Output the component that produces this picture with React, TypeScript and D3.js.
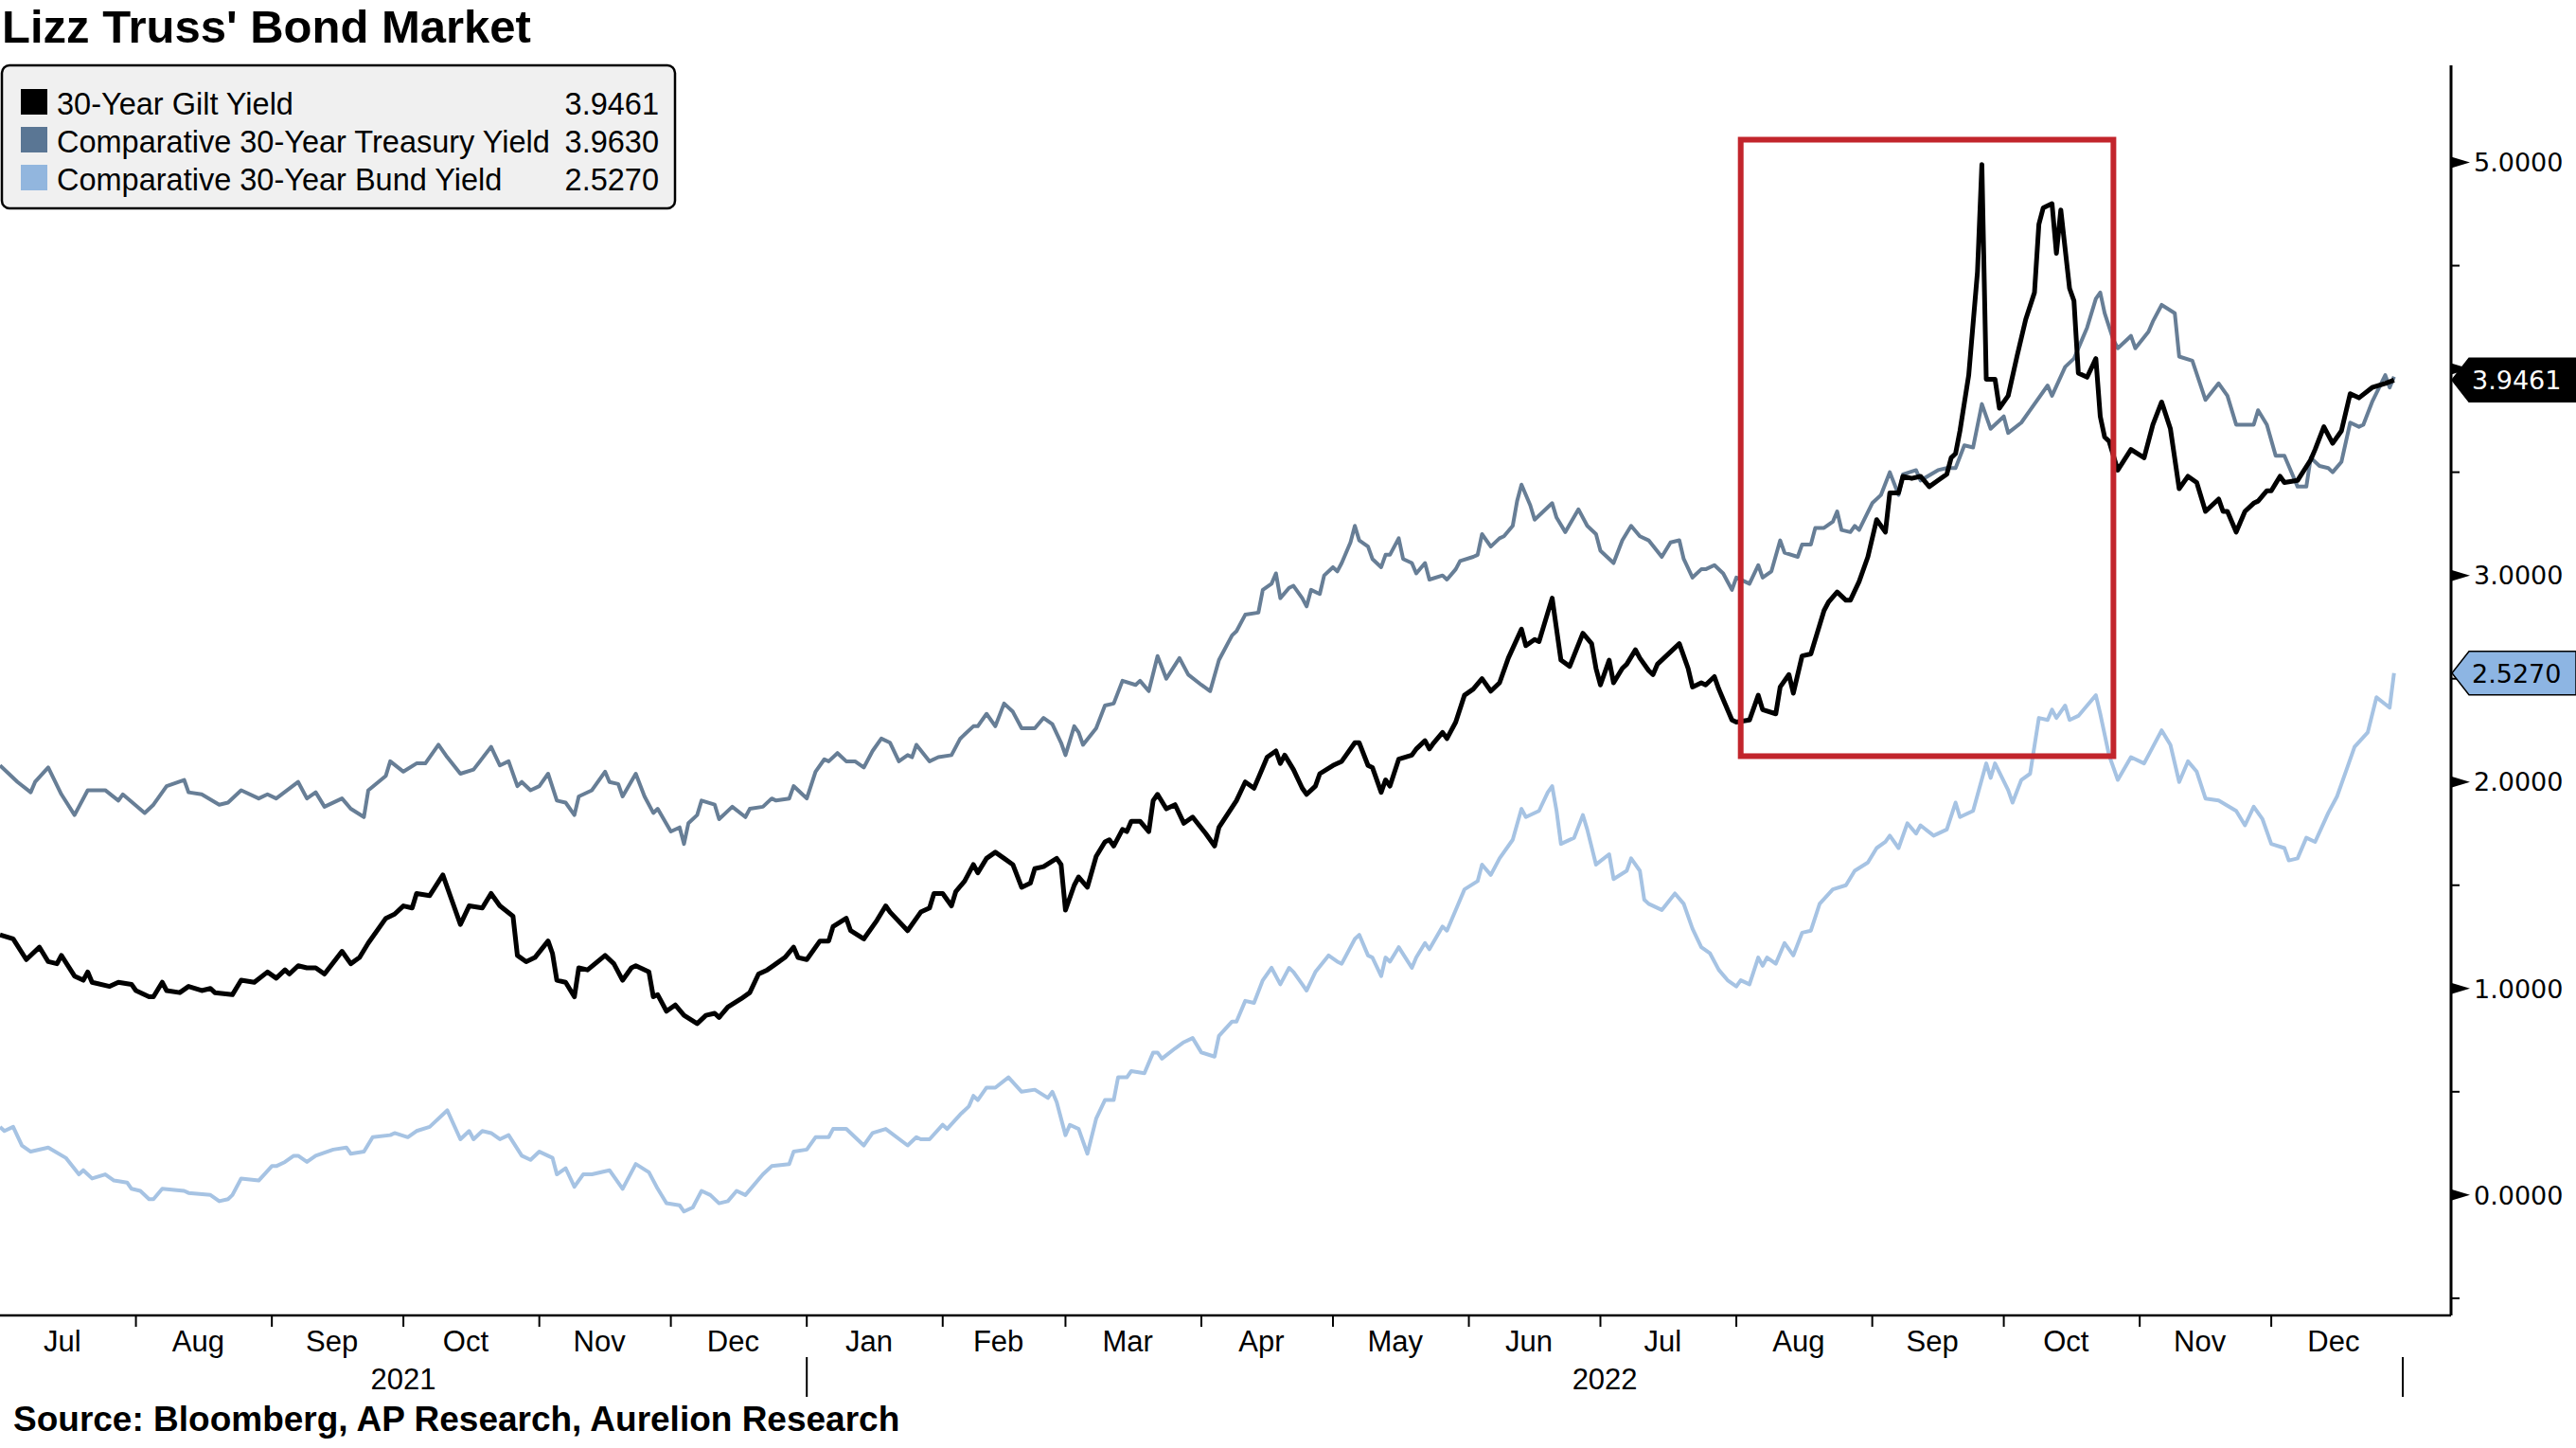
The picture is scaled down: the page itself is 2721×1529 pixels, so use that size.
import React, { useMemo } from 'react';
import * as d3 from 'd3';

type Pt = [string, number];

// 30-year gilt yield
const giltYield: Pt[] = [
  ['2021-07-01', 1.26], ['2021-07-04', 1.24], ['2021-07-07', 1.14], ['2021-07-10', 1.2], ['2021-07-12', 1.13],
  ['2021-07-14', 1.12], ['2021-07-15', 1.16], ['2021-07-18', 1.06], ['2021-07-20', 1.04], ['2021-07-21', 1.08],
  ['2021-07-22', 1.03], ['2021-07-26', 1.01], ['2021-07-28', 1.03], ['2021-07-31', 1.02], ['2021-08-01', 0.99],
  ['2021-08-04', 0.96], ['2021-08-05', 0.96], ['2021-08-07', 1.03], ['2021-08-08', 0.99], ['2021-08-11', 0.98],
  ['2021-08-13', 1.01], ['2021-08-16', 0.99], ['2021-08-18', 1.0], ['2021-08-19', 0.98], ['2021-08-23', 0.97],
  ['2021-08-25', 1.04], ['2021-08-28', 1.03], ['2021-08-31', 1.08], ['2021-09-02', 1.05], ['2021-09-04', 1.09],
  ['2021-09-05', 1.07], ['2021-09-07', 1.11], ['2021-09-09', 1.1], ['2021-09-11', 1.1], ['2021-09-13', 1.07],
  ['2021-09-17', 1.18], ['2021-09-19', 1.12], ['2021-09-21', 1.15], ['2021-09-23', 1.22], ['2021-09-27', 1.34],
  ['2021-09-29', 1.36], ['2021-10-01', 1.4], ['2021-10-03', 1.39], ['2021-10-04', 1.46], ['2021-10-07', 1.45],
  ['2021-10-10', 1.55], ['2021-10-12', 1.43], ['2021-10-14', 1.31], ['2021-10-16', 1.4], ['2021-10-19', 1.39],
  ['2021-10-21', 1.46], ['2021-10-23', 1.4], ['2021-10-26', 1.35], ['2021-10-27', 1.16], ['2021-10-29', 1.13],
  ['2021-10-31', 1.15], ['2021-11-03', 1.23], ['2021-11-04', 1.17], ['2021-11-05', 1.04], ['2021-11-07', 1.03],
  ['2021-11-09', 0.96], ['2021-11-10', 1.1], ['2021-11-12', 1.09], ['2021-11-16', 1.16], ['2021-11-18', 1.12],
  ['2021-11-20', 1.04], ['2021-11-22', 1.1], ['2021-11-23', 1.11], ['2021-11-26', 1.08], ['2021-11-27', 0.96],
  ['2021-11-28', 0.97], ['2021-11-30', 0.89], ['2021-12-02', 0.92], ['2021-12-04', 0.87], ['2021-12-07', 0.83],
  ['2021-12-09', 0.87], ['2021-12-11', 0.88], ['2021-12-12', 0.86], ['2021-12-14', 0.91], ['2021-12-17', 0.95],
  ['2021-12-19', 0.98], ['2021-12-21', 1.07], ['2021-12-23', 1.09], ['2021-12-25', 1.12], ['2021-12-27', 1.15],
  ['2021-12-29', 1.2], ['2021-12-30', 1.15], ['2022-01-01', 1.14], ['2022-01-04', 1.23], ['2022-01-06', 1.23],
  ['2022-01-07', 1.3], ['2022-01-10', 1.34], ['2022-01-11', 1.28], ['2022-01-14', 1.24], ['2022-01-17', 1.33],
  ['2022-01-19', 1.4], ['2022-01-20', 1.37], ['2022-01-24', 1.28], ['2022-01-27', 1.37], ['2022-01-29', 1.39],
  ['2022-01-30', 1.46], ['2022-02-01', 1.46], ['2022-02-03', 1.4], ['2022-02-04', 1.47], ['2022-02-06', 1.52],
  ['2022-02-08', 1.6], ['2022-02-09', 1.56], ['2022-02-11', 1.63], ['2022-02-13', 1.66], ['2022-02-15', 1.63],
  ['2022-02-17', 1.6], ['2022-02-19', 1.49], ['2022-02-21', 1.51], ['2022-02-22', 1.58], ['2022-02-24', 1.59],
  ['2022-02-27', 1.63], ['2022-02-28', 1.6], ['2022-03-01', 1.38], ['2022-03-03', 1.5], ['2022-03-04', 1.54],
  ['2022-03-06', 1.49], ['2022-03-08', 1.64], ['2022-03-10', 1.71], ['2022-03-11', 1.72], ['2022-03-12', 1.69],
  ['2022-03-14', 1.77], ['2022-03-15', 1.76], ['2022-03-16', 1.81], ['2022-03-18', 1.81], ['2022-03-20', 1.76],
  ['2022-03-21', 1.91], ['2022-03-22', 1.94], ['2022-03-24', 1.87], ['2022-03-26', 1.89], ['2022-03-28', 1.8],
  ['2022-03-30', 1.83], ['2022-04-02', 1.75], ['2022-04-04', 1.69], ['2022-04-05', 1.78], ['2022-04-09', 1.91],
  ['2022-04-11', 2.0], ['2022-04-13', 1.97], ['2022-04-15', 2.07], ['2022-04-16', 2.12], ['2022-04-18', 2.15],
  ['2022-04-19', 2.09], ['2022-04-20', 2.13], ['2022-04-22', 2.06], ['2022-04-24', 1.97], ['2022-04-25', 1.94],
  ['2022-04-27', 1.98], ['2022-04-28', 2.04], ['2022-05-01', 2.08], ['2022-05-03', 2.1], ['2022-05-04', 2.13],
  ['2022-05-06', 2.19], ['2022-05-07', 2.19], ['2022-05-09', 2.08], ['2022-05-10', 2.07], ['2022-05-12', 1.95],
  ['2022-05-13', 2.01], ['2022-05-14', 1.98], ['2022-05-16', 2.11], ['2022-05-19', 2.13], ['2022-05-20', 2.16],
  ['2022-05-22', 2.2], ['2022-05-23', 2.16], ['2022-05-24', 2.19], ['2022-05-26', 2.24], ['2022-05-27', 2.21],
  ['2022-05-29', 2.29], ['2022-05-31', 2.42], ['2022-06-02', 2.45], ['2022-06-04', 2.5], ['2022-06-06', 2.44],
  ['2022-06-08', 2.48], ['2022-06-10', 2.6], ['2022-06-13', 2.74], ['2022-06-14', 2.66], ['2022-06-16', 2.69],
  ['2022-06-17', 2.68], ['2022-06-19', 2.82], ['2022-06-20', 2.89], ['2022-06-21', 2.74], ['2022-06-22', 2.59],
  ['2022-06-24', 2.56], ['2022-06-27', 2.72], ['2022-06-29', 2.67], ['2022-06-30', 2.55], ['2022-07-01', 2.47],
  ['2022-07-03', 2.59], ['2022-07-04', 2.48], ['2022-07-06', 2.55], ['2022-07-07', 2.57], ['2022-07-09', 2.64],
  ['2022-07-10', 2.6], ['2022-07-12', 2.54], ['2022-07-13', 2.52], ['2022-07-14', 2.57], ['2022-07-19', 2.67],
  ['2022-07-21', 2.55], ['2022-07-22', 2.46], ['2022-07-24', 2.48], ['2022-07-25', 2.47], ['2022-07-27', 2.51],
  ['2022-07-28', 2.45], ['2022-07-29', 2.4], ['2022-07-31', 2.3], ['2022-08-01', 2.29], ['2022-08-04', 2.3],
  ['2022-08-06', 2.42], ['2022-08-07', 2.35], ['2022-08-10', 2.33], ['2022-08-11', 2.46], ['2022-08-13', 2.52],
  ['2022-08-14', 2.43], ['2022-08-16', 2.61], ['2022-08-18', 2.62], ['2022-08-21', 2.83], ['2022-08-22', 2.87],
  ['2022-08-24', 2.92], ['2022-08-26', 2.88], ['2022-08-27', 2.88], ['2022-08-29', 2.97], ['2022-08-31', 3.09],
  ['2022-09-02', 3.27], ['2022-09-04', 3.21], ['2022-09-05', 3.4], ['2022-09-07', 3.4], ['2022-09-08', 3.48],
  ['2022-09-10', 3.47], ['2022-09-12', 3.48], ['2022-09-14', 3.43], ['2022-09-16', 3.46], ['2022-09-18', 3.49],
  ['2022-09-19', 3.57], ['2022-09-20', 3.59], ['2022-09-21', 3.7], ['2022-09-23', 3.97], ['2022-09-25', 4.47],
  ['2022-09-26', 4.99], ['2022-09-27', 3.95], ['2022-09-29', 3.95], ['2022-09-30', 3.81], ['2022-10-02', 3.87],
  ['2022-10-04', 4.06], ['2022-10-06', 4.24], ['2022-10-08', 4.37], ['2022-10-09', 4.7], ['2022-10-10', 4.78],
  ['2022-10-12', 4.8], ['2022-10-13', 4.56], ['2022-10-14', 4.77], ['2022-10-16', 4.39], ['2022-10-17', 4.33],
  ['2022-10-18', 3.98], ['2022-10-20', 3.96], ['2022-10-22', 4.05], ['2022-10-23', 3.77], ['2022-10-24', 3.67],
  ['2022-10-25', 3.65], ['2022-10-27', 3.51], ['2022-10-30', 3.61], ['2022-11-02', 3.57], ['2022-11-04', 3.73],
  ['2022-11-06', 3.84], ['2022-11-08', 3.71], ['2022-11-10', 3.42], ['2022-11-12', 3.48], ['2022-11-14', 3.45],
  ['2022-11-16', 3.31], ['2022-11-19', 3.37], ['2022-11-20', 3.31], ['2022-11-21', 3.31], ['2022-11-23', 3.21],
  ['2022-11-25', 3.31], ['2022-11-27', 3.35], ['2022-11-28', 3.36], ['2022-11-30', 3.41], ['2022-12-01', 3.41],
  ['2022-12-03', 3.48], ['2022-12-04', 3.45], ['2022-12-07', 3.46], ['2022-12-10', 3.56], ['2022-12-11', 3.61],
  ['2022-12-13', 3.72], ['2022-12-15', 3.64], ['2022-12-17', 3.7], ['2022-12-19', 3.88], ['2022-12-21', 3.86],
  ['2022-12-24', 3.91], ['2022-12-27', 3.93], ['2022-12-29', 3.9461],
];

// comparative 30-year treasury yield
const treasuryYield: Pt[] = [
  ['2021-07-01', 2.08], ['2021-07-05', 2.0], ['2021-07-08', 1.95], ['2021-07-09', 2.0], ['2021-07-12', 2.07],
  ['2021-07-15', 1.94], ['2021-07-18', 1.84], ['2021-07-21', 1.96], ['2021-07-25', 1.96], ['2021-07-28', 1.91],
  ['2021-07-29', 1.94], ['2021-08-03', 1.85], ['2021-08-05', 1.89], ['2021-08-08', 1.98], ['2021-08-12', 2.01],
  ['2021-08-13', 1.95], ['2021-08-16', 1.94], ['2021-08-20', 1.89], ['2021-08-22', 1.9], ['2021-08-25', 1.96],
  ['2021-08-29', 1.92], ['2021-08-31', 1.94], ['2021-09-02', 1.92], ['2021-09-07', 2.0], ['2021-09-09', 1.92],
  ['2021-09-11', 1.95], ['2021-09-13', 1.88], ['2021-09-17', 1.92], ['2021-09-19', 1.87], ['2021-09-22', 1.83],
  ['2021-09-23', 1.96], ['2021-09-27', 2.03], ['2021-09-28', 2.1], ['2021-10-01', 2.05], ['2021-10-04', 2.09],
  ['2021-10-06', 2.09], ['2021-10-09', 2.18], ['2021-10-11', 2.12], ['2021-10-14', 2.04], ['2021-10-17', 2.06],
  ['2021-10-21', 2.17], ['2021-10-23', 2.08], ['2021-10-25', 2.1], ['2021-10-27', 1.98], ['2021-10-28', 2.0],
  ['2021-10-30', 1.96], ['2021-11-01', 1.98], ['2021-11-03', 2.04], ['2021-11-05', 1.91], ['2021-11-07', 1.9],
  ['2021-11-09', 1.84], ['2021-11-10', 1.93], ['2021-11-13', 1.96], ['2021-11-16', 2.05], ['2021-11-17', 2.0],
  ['2021-11-19', 1.99], ['2021-11-20', 1.93], ['2021-11-23', 2.04], ['2021-11-25', 1.93], ['2021-11-27', 1.85],
  ['2021-11-28', 1.87], ['2021-12-01', 1.76], ['2021-12-03', 1.78], ['2021-12-04', 1.7], ['2021-12-05', 1.8],
  ['2021-12-07', 1.84], ['2021-12-08', 1.91], ['2021-12-11', 1.89], ['2021-12-12', 1.82], ['2021-12-15', 1.88],
  ['2021-12-18', 1.83], ['2021-12-19', 1.87], ['2021-12-22', 1.88], ['2021-12-24', 1.92], ['2021-12-25', 1.91],
  ['2021-12-28', 1.92], ['2021-12-29', 1.98], ['2021-12-31', 1.94], ['2022-01-01', 1.92], ['2022-01-03', 2.05],
  ['2022-01-05', 2.11], ['2022-01-06', 2.1], ['2022-01-08', 2.14], ['2022-01-10', 2.1], ['2022-01-12', 2.1],
  ['2022-01-14', 2.07], ['2022-01-16', 2.15], ['2022-01-18', 2.21], ['2022-01-20', 2.19], ['2022-01-22', 2.1],
  ['2022-01-24', 2.13], ['2022-01-25', 2.12], ['2022-01-26', 2.18], ['2022-01-29', 2.1], ['2022-01-31', 2.12],
  ['2022-02-03', 2.13], ['2022-02-05', 2.21], ['2022-02-08', 2.27], ['2022-02-09', 2.27], ['2022-02-11', 2.33],
  ['2022-02-13', 2.27], ['2022-02-15', 2.38], ['2022-02-17', 2.34], ['2022-02-19', 2.26], ['2022-02-22', 2.26],
  ['2022-02-24', 2.31], ['2022-02-26', 2.28], ['2022-02-28', 2.19], ['2022-03-01', 2.13], ['2022-03-03', 2.27],
  ['2022-03-04', 2.24], ['2022-03-05', 2.18], ['2022-03-08', 2.26], ['2022-03-10', 2.37], ['2022-03-12', 2.38],
  ['2022-03-14', 2.49], ['2022-03-17', 2.47], ['2022-03-18', 2.49], ['2022-03-20', 2.44], ['2022-03-22', 2.61],
  ['2022-03-24', 2.5], ['2022-03-27', 2.6], ['2022-03-29', 2.52], ['2022-04-01', 2.47], ['2022-04-03', 2.44],
  ['2022-04-05', 2.59], ['2022-04-08', 2.71], ['2022-04-09', 2.73], ['2022-04-11', 2.81], ['2022-04-14', 2.82],
  ['2022-04-15', 2.93], ['2022-04-17', 2.96], ['2022-04-18', 3.01], ['2022-04-19', 2.89], ['2022-04-21', 2.94],
  ['2022-04-22', 2.95], ['2022-04-24', 2.89], ['2022-04-25', 2.85], ['2022-04-26', 2.93], ['2022-04-28', 2.91],
  ['2022-04-29', 3.0], ['2022-05-01', 3.04], ['2022-05-02', 3.02], ['2022-05-03', 3.06], ['2022-05-05', 3.16],
  ['2022-05-06', 3.24], ['2022-05-07', 3.17], ['2022-05-09', 3.14], ['2022-05-10', 3.08], ['2022-05-12', 3.04],
  ['2022-05-13', 3.1], ['2022-05-14', 3.1], ['2022-05-16', 3.18], ['2022-05-17', 3.08], ['2022-05-19', 3.06],
  ['2022-05-20', 3.01], ['2022-05-22', 3.06], ['2022-05-23', 2.98], ['2022-05-26', 3.0], ['2022-05-27', 2.98],
  ['2022-05-29', 3.03], ['2022-05-30', 3.07], ['2022-06-02', 3.09], ['2022-06-03', 3.1], ['2022-06-04', 3.2],
  ['2022-06-06', 3.14], ['2022-06-08', 3.18], ['2022-06-09', 3.19], ['2022-06-11', 3.24], ['2022-06-12', 3.36],
  ['2022-06-13', 3.44], ['2022-06-15', 3.34], ['2022-06-16', 3.27], ['2022-06-20', 3.35], ['2022-06-21', 3.28],
  ['2022-06-23', 3.21], ['2022-06-26', 3.32], ['2022-06-28', 3.24], ['2022-06-30', 3.2], ['2022-07-01', 3.12],
  ['2022-07-04', 3.06], ['2022-07-06', 3.17], ['2022-07-08', 3.24], ['2022-07-10', 3.19], ['2022-07-12', 3.17],
  ['2022-07-15', 3.09], ['2022-07-17', 3.16], ['2022-07-19', 3.17], ['2022-07-20', 3.08], ['2022-07-22', 2.99],
  ['2022-07-24', 3.03], ['2022-07-25', 3.03], ['2022-07-27', 3.05], ['2022-07-29', 3.01], ['2022-07-31', 2.93],
  ['2022-08-01', 2.99], ['2022-08-04', 2.96], ['2022-08-06', 3.05], ['2022-08-07', 2.99], ['2022-08-09', 3.02],
  ['2022-08-11', 3.17], ['2022-08-12', 3.11], ['2022-08-15', 3.09], ['2022-08-16', 3.15], ['2022-08-18', 3.15],
  ['2022-08-19', 3.23], ['2022-08-21', 3.23], ['2022-08-23', 3.26], ['2022-08-24', 3.31], ['2022-08-25', 3.22],
  ['2022-08-27', 3.21], ['2022-08-28', 3.24], ['2022-08-29', 3.22], ['2022-09-01', 3.35], ['2022-09-03', 3.39],
  ['2022-09-05', 3.5], ['2022-09-07', 3.39], ['2022-09-08', 3.49], ['2022-09-11', 3.51], ['2022-09-12', 3.46],
  ['2022-09-16', 3.51], ['2022-09-18', 3.52], ['2022-09-20', 3.52], ['2022-09-22', 3.63], ['2022-09-24', 3.62],
  ['2022-09-26', 3.83], ['2022-09-28', 3.71], ['2022-10-01', 3.77], ['2022-10-02', 3.69], ['2022-10-05', 3.74],
  ['2022-10-07', 3.8], ['2022-10-11', 3.92], ['2022-10-12', 3.87], ['2022-10-15', 4.01], ['2022-10-17', 4.05],
  ['2022-10-19', 4.15], ['2022-10-20', 4.2], ['2022-10-22', 4.34], ['2022-10-23', 4.37], ['2022-10-24', 4.27],
  ['2022-10-26', 4.14], ['2022-10-27', 4.1], ['2022-10-30', 4.16], ['2022-10-31', 4.1], ['2022-11-03', 4.18],
  ['2022-11-04', 4.23], ['2022-11-06', 4.31], ['2022-11-09', 4.27], ['2022-11-10', 4.06], ['2022-11-13', 4.04],
  ['2022-11-16', 3.85], ['2022-11-19', 3.93], ['2022-11-21', 3.87], ['2022-11-23', 3.73], ['2022-11-27', 3.73],
  ['2022-11-28', 3.8], ['2022-11-30', 3.73], ['2022-12-02', 3.58], ['2022-12-04', 3.58], ['2022-12-07', 3.43],
  ['2022-12-09', 3.43], ['2022-12-10', 3.57], ['2022-12-12', 3.53], ['2022-12-14', 3.52], ['2022-12-15', 3.5],
  ['2022-12-17', 3.55], ['2022-12-19', 3.74], ['2022-12-21', 3.72], ['2022-12-22', 3.73], ['2022-12-24', 3.84],
  ['2022-12-27', 3.97], ['2022-12-28', 3.91], ['2022-12-29', 3.963],
];

// comparative 30-year bund yield
const bundYield: Pt[] = [
  ['2021-07-01', 0.33], ['2021-07-02', 0.31], ['2021-07-04', 0.33], ['2021-07-06', 0.24], ['2021-07-08', 0.21],
  ['2021-07-12', 0.23], ['2021-07-16', 0.18], ['2021-07-19', 0.1], ['2021-07-20', 0.12], ['2021-07-22', 0.08],
  ['2021-07-25', 0.1], ['2021-07-27', 0.07], ['2021-07-30', 0.06], ['2021-07-31', 0.03], ['2021-08-02', 0.02],
  ['2021-08-04', -0.02], ['2021-08-05', -0.02], ['2021-08-07', 0.03], ['2021-08-12', 0.02], ['2021-08-13', 0.01],
  ['2021-08-18', 0.0], ['2021-08-20', -0.03], ['2021-08-22', -0.02], ['2021-08-23', 0.0], ['2021-08-25', 0.08],
  ['2021-08-29', 0.07], ['2021-09-01', 0.14], ['2021-09-02', 0.14], ['2021-09-04', 0.16], ['2021-09-06', 0.19],
  ['2021-09-07', 0.19], ['2021-09-09', 0.16], ['2021-09-11', 0.19], ['2021-09-15', 0.22], ['2021-09-18', 0.23],
  ['2021-09-19', 0.2], ['2021-09-22', 0.21], ['2021-09-24', 0.28], ['2021-09-28', 0.29], ['2021-09-29', 0.3],
  ['2021-10-02', 0.28], ['2021-10-04', 0.31], ['2021-10-07', 0.33], ['2021-10-11', 0.41], ['2021-10-14', 0.27],
  ['2021-10-16', 0.31], ['2021-10-17', 0.27], ['2021-10-19', 0.31], ['2021-10-21', 0.3], ['2021-10-23', 0.27],
  ['2021-10-25', 0.29], ['2021-10-28', 0.19], ['2021-10-30', 0.17], ['2021-11-01', 0.21], ['2021-11-04', 0.18],
  ['2021-11-05', 0.1], ['2021-11-07', 0.13], ['2021-11-09', 0.04], ['2021-11-11', 0.1], ['2021-11-13', 0.1],
  ['2021-11-17', 0.12], ['2021-11-20', 0.03], ['2021-11-23', 0.15], ['2021-11-26', 0.11], ['2021-11-28', 0.03],
  ['2021-11-30', -0.04], ['2021-12-03', -0.05], ['2021-12-04', -0.08], ['2021-12-06', -0.06], ['2021-12-08', 0.02],
  ['2021-12-10', 0.0], ['2021-12-12', -0.04], ['2021-12-14', -0.03], ['2021-12-16', 0.02], ['2021-12-18', 0.0],
  ['2021-12-22', 0.1], ['2021-12-24', 0.14], ['2021-12-28', 0.15], ['2021-12-29', 0.21], ['2022-01-01', 0.22],
  ['2022-01-03', 0.28], ['2022-01-06', 0.28], ['2022-01-07', 0.32], ['2022-01-10', 0.32], ['2022-01-14', 0.24],
  ['2022-01-16', 0.3], ['2022-01-19', 0.32], ['2022-01-24', 0.24], ['2022-01-26', 0.28], ['2022-01-27', 0.27],
  ['2022-01-29', 0.27], ['2022-02-01', 0.34], ['2022-02-02', 0.32], ['2022-02-05', 0.39], ['2022-02-07', 0.43],
  ['2022-02-08', 0.48], ['2022-02-09', 0.46], ['2022-02-11', 0.52], ['2022-02-13', 0.52], ['2022-02-16', 0.57],
  ['2022-02-19', 0.5], ['2022-02-22', 0.51], ['2022-02-25', 0.47], ['2022-02-26', 0.5], ['2022-02-27', 0.45],
  ['2022-03-01', 0.29], ['2022-03-02', 0.34], ['2022-03-04', 0.32], ['2022-03-06', 0.2], ['2022-03-08', 0.37],
  ['2022-03-10', 0.46], ['2022-03-12', 0.46], ['2022-03-13', 0.57], ['2022-03-15', 0.57], ['2022-03-16', 0.6],
  ['2022-03-19', 0.59], ['2022-03-21', 0.69], ['2022-03-22', 0.69], ['2022-03-23', 0.66], ['2022-03-26', 0.71],
  ['2022-03-28', 0.74], ['2022-03-30', 0.76], ['2022-04-01', 0.69], ['2022-04-04', 0.67], ['2022-04-05', 0.77],
  ['2022-04-08', 0.84], ['2022-04-09', 0.84], ['2022-04-11', 0.94], ['2022-04-13', 0.93], ['2022-04-15', 1.04],
  ['2022-04-17', 1.1], ['2022-04-19', 1.02], ['2022-04-21', 1.1], ['2022-04-22', 1.08], ['2022-04-24', 1.02],
  ['2022-04-25', 0.99], ['2022-04-27', 1.08], ['2022-04-30', 1.16], ['2022-05-02', 1.13], ['2022-05-03', 1.12],
  ['2022-05-06', 1.24], ['2022-05-07', 1.26], ['2022-05-09', 1.16], ['2022-05-10', 1.15], ['2022-05-12', 1.06],
  ['2022-05-13', 1.15], ['2022-05-14', 1.13], ['2022-05-16', 1.2], ['2022-05-19', 1.1], ['2022-05-20', 1.15],
  ['2022-05-22', 1.22], ['2022-05-23', 1.19], ['2022-05-26', 1.3], ['2022-05-27', 1.28], ['2022-05-29', 1.38],
  ['2022-05-31', 1.48], ['2022-06-03', 1.52], ['2022-06-04', 1.6], ['2022-06-06', 1.55], ['2022-06-08', 1.63],
  ['2022-06-11', 1.72], ['2022-06-13', 1.87], ['2022-06-14', 1.83], ['2022-06-17', 1.86], ['2022-06-19', 1.95],
  ['2022-06-20', 1.98], ['2022-06-21', 1.86], ['2022-06-22', 1.7], ['2022-06-25', 1.73], ['2022-06-27', 1.84],
  ['2022-06-28', 1.77], ['2022-06-30', 1.6], ['2022-07-03', 1.65], ['2022-07-04', 1.53], ['2022-07-07', 1.57],
  ['2022-07-08', 1.63], ['2022-07-10', 1.57], ['2022-07-11', 1.43], ['2022-07-12', 1.41], ['2022-07-15', 1.38],
  ['2022-07-18', 1.46], ['2022-07-20', 1.41], ['2022-07-22', 1.29], ['2022-07-24', 1.2], ['2022-07-26', 1.17],
  ['2022-07-28', 1.09], ['2022-07-30', 1.04], ['2022-08-01', 1.01], ['2022-08-02', 1.04], ['2022-08-04', 1.02],
  ['2022-08-06', 1.15], ['2022-08-07', 1.11], ['2022-08-08', 1.15], ['2022-08-10', 1.12], ['2022-08-12', 1.22],
  ['2022-08-14', 1.16], ['2022-08-16', 1.27], ['2022-08-18', 1.28], ['2022-08-20', 1.41], ['2022-08-23', 1.48],
  ['2022-08-26', 1.5], ['2022-08-28', 1.57], ['2022-08-31', 1.61], ['2022-09-02', 1.68], ['2022-09-04', 1.71],
  ['2022-09-05', 1.74], ['2022-09-07', 1.68], ['2022-09-09', 1.8], ['2022-09-11', 1.75], ['2022-09-12', 1.79],
  ['2022-09-15', 1.74], ['2022-09-18', 1.77], ['2022-09-20', 1.9], ['2022-09-21', 1.83], ['2022-09-24', 1.86],
  ['2022-09-27', 2.09], ['2022-09-28', 2.02], ['2022-09-29', 2.09], ['2022-10-02', 1.96], ['2022-10-03', 1.9],
  ['2022-10-05', 2.01], ['2022-10-07', 2.04], ['2022-10-09', 2.31], ['2022-10-11', 2.3], ['2022-10-12', 2.35],
  ['2022-10-13', 2.31], ['2022-10-15', 2.37], ['2022-10-16', 2.3], ['2022-10-18', 2.32], ['2022-10-20', 2.37],
  ['2022-10-22', 2.42], ['2022-10-23', 2.33], ['2022-10-25', 2.13], ['2022-10-27', 2.01], ['2022-10-30', 2.12],
  ['2022-11-02', 2.09], ['2022-11-04', 2.17], ['2022-11-06', 2.25], ['2022-11-08', 2.18], ['2022-11-10', 2.0],
  ['2022-11-12', 2.1], ['2022-11-14', 2.05], ['2022-11-16', 1.92], ['2022-11-19', 1.91], ['2022-11-23', 1.86],
  ['2022-11-25', 1.79], ['2022-11-27', 1.88], ['2022-11-29', 1.82], ['2022-12-01', 1.7], ['2022-12-04', 1.68],
  ['2022-12-05', 1.62], ['2022-12-07', 1.63], ['2022-12-09', 1.73], ['2022-12-11', 1.71], ['2022-12-14', 1.85],
  ['2022-12-16', 1.93], ['2022-12-18', 2.05], ['2022-12-20', 2.17], ['2022-12-23', 2.24], ['2022-12-25', 2.41],
  ['2022-12-28', 2.36], ['2022-12-29', 2.527],
];

const seriesNames = ['30-Year Gilt Yield', 'Comparative 30-Year Treasury Yield', 'Comparative 30-Year Bund Yield'];
const lastValues = ['3.9461', '3.9630', '2.5270'];
const majorTicks = [0, 1, 2, 3, 4, 5];
const minorTicks = [-0.5, 0.5, 1.5, 2.5, 3.5, 4.5];
const yearLabels = ['2021', '2022'];
const yearEdgeDates = ['2021-07-01', '2022-01-01', '2022-12-31'];
// highlighted window (dates and yields)
const boxDates = ['2022-08-02', '2022-10-26'];
const boxYields = [2.125, 5.11];

const W = 2721;
const H = 1529;
const plot = { left: 0, right: 2589, top: 69, bottom: 1389 };
const SANS = "'Liberation Sans', Arial, sans-serif";
const AXISFONT = "'DejaVu Sans', Verdana, sans-serif";

const colors = {
  gilt: '#000000',
  treasury: '#677e96',
  bund: '#a6c3e3',
  treasurySwatch: '#5a7694',
  bundSwatch: '#92b6de',
  tagBlue: '#8db5e3',
  box: '#c2252c',
};

const parse = (s: string) => d3.timeParse('%Y-%m-%d')(s) as Date;

const App: React.FC = () => {
  const { x, y, paths, months, monthTicks } = useMemo(() => {
    const x = d3.scaleTime()
      .domain([parse('2021-07-01'), parse('2023-01-11')])
      .range([plot.left, plot.right]);
    const y = d3.scaleLinear().domain([-0.583, 5.47]).range([plot.bottom, plot.top]);

    const line = d3.line<Pt>()
      .x(d => x(parse(d[0])))
      .y(d => y(d[1]));

    const monthStarts = d3.timeMonth.range(new Date(2021, 6, 1), new Date(2023, 0, 1));
    const months = monthStarts.map(m => {
      const next = d3.timeMonth.offset(m, 1);
      // Bloomberg sets month names a touch left of the month's centre
      return { label: d3.timeFormat('%b')(m), cx: (x(m) + x(next)) / 2 - 6 };
    });
    const monthTicks = monthStarts.slice(1).map(m => x(m));

    return {
      x,
      y,
      paths: {
        gilt: line(giltYield) || '',
        treasury: line(treasuryYield) || '',
        bund: line(bundYield) || '',
      },
      months,
      monthTicks,
    };
  }, []);

  const yearEdges = yearEdgeDates.map(parse);
  const legendColors = [colors.gilt, colors.treasurySwatch, colors.bundSwatch];
  const giltLast = giltYield[giltYield.length - 1][1];
  const bundLast = bundYield[bundYield.length - 1][1];
  const tagYs = [y(giltLast), y(bundLast)];

  const tag = (value: number, text: string, fill: string, textColor: string) => {
    const cy = y(value);
    const tip = plot.right + 1;
    const body = plot.right + 19;
    const hh = 23;
    const pts = `${tip},${cy} ${body},${cy - hh} ${W},${cy - hh} ${W},${cy + hh} ${body},${cy + hh}`;
    return (
      <g>
        <polygon points={pts} fill={fill} stroke="#000" strokeWidth={1.5} />
        <text x={body + 3} y={cy} dy="0.36em" fontFamily={AXISFONT} fontSize={27} fill={textColor}>
          {text}
        </text>
      </g>
    );
  };

  const bx0 = x(parse(boxDates[0]));
  const bx1 = x(parse(boxDates[1]));
  const by0 = y(boxYields[1]);
  const by1 = y(boxYields[0]);

  return (
    <svg
      width={W}
      height={H}
      viewBox={`0 0 ${W} ${H}`}
      style={{ position: 'absolute', left: 0, top: 0, background: '#fff' }}
    >
      <rect width={W} height={H} fill="#fff" />

      {/* Title */}
      <text x={2} y={45} fontFamily={SANS} fontWeight="bold" fontSize={49} fill="#000">
        Lizz Truss' Bond Market
      </text>

      {/* Series lines */}
      <path d={paths.bund} fill="none" stroke={colors.bund} strokeWidth={4} strokeLinejoin="round" />
      <path d={paths.treasury} fill="none" stroke={colors.treasury} strokeWidth={4} strokeLinejoin="round" />
      <path d={paths.gilt} fill="none" stroke={colors.gilt} strokeWidth={5} strokeLinejoin="round" />

      {/* Highlight box */}
      <rect x={bx0} y={by0} width={bx1 - bx0} height={by1 - by0} fill="none" stroke={colors.box} strokeWidth={6} />

      {/* X axis */}
      <line x1={plot.left} x2={plot.right} y1={plot.bottom} y2={plot.bottom} stroke="#000" strokeWidth={2.5} />
      {monthTicks.map((tx, i) => (
        <line key={i} x1={tx} x2={tx} y1={plot.bottom} y2={plot.bottom + 12} stroke="#000" strokeWidth={2} />
      ))}
      {months.map((m, i) => (
        <text key={i} x={m.cx} y={1427} textAnchor="middle" fontFamily={SANS} fontSize={31} fill="#000">
          {m.label}
        </text>
      ))}
      {yearEdges.slice(1).map((d, i) => (
        <line key={i} x1={x(d)} x2={x(d)} y1={1433} y2={1475} stroke="#000" strokeWidth={2} />
      ))}
      {yearLabels.map((label, i) => (
        <text
          key={label}
          x={(x(yearEdges[i]) + x(yearEdges[i + 1])) / 2}
          y={1467}
          textAnchor="middle"
          fontFamily={SANS}
          fontSize={31}
          fill="#000"
        >
          {label}
        </text>
      ))}

      {/* Y axis */}
      <line x1={plot.right} x2={plot.right} y1={plot.top} y2={plot.bottom} stroke="#000" strokeWidth={3} />
      {minorTicks.map(t => (
        <line key={t} x1={plot.right} x2={plot.right + 9} y1={y(t)} y2={y(t)} stroke="#000" strokeWidth={2} />
      ))}
      {majorTicks.map(t => (
        <g key={t}>
          <polygon
            points={`${plot.right},${y(t) - 6} ${plot.right + 20},${y(t)} ${plot.right},${y(t) + 6}`}
            fill="#000"
          />
          {/* labels that sit under a last-value tag are hidden, as in the original */}
          {tagYs.every(ty => Math.abs(ty - y(t)) > 30) && (
            <text x={plot.right + 24} y={y(t)} dy="0.36em" fontFamily={AXISFONT} fontSize={27} fill="#000">
              {t.toFixed(4)}
            </text>
          )}
        </g>
      ))}

      {/* Last value tags */}
      {tag(bundLast, lastValues[2], colors.tagBlue, '#000')}
      {tag(giltLast, lastValues[0], '#000', '#fff')}

      {/* Legend */}
      <rect x={2} y={69} width={711} height={151} rx={8} fill="#f0f0f0" stroke="#000" strokeWidth={2.5} />
      {seriesNames.map((name, i) => {
        const base = 121 + i * 40;
        return (
          <g key={name}>
            <rect x={22} y={base - 27} width={28} height={27} fill={legendColors[i]} />
            <text x={60} y={base} fontFamily={SANS} fontSize={32.5} fill="#000">{name}</text>
            <text x={696} y={base} textAnchor="end" fontFamily={SANS} fontSize={32.5} fill="#000">
              {lastValues[i]}
            </text>
          </g>
        );
      })}

      {/* Source */}
      <text x={14} y={1511} fontFamily={SANS} fontWeight="bold" fontSize={37} fill="#000">
        Source: Bloomberg, AP Research, Aurelion Research
      </text>
    </svg>
  );
};

export default App;
